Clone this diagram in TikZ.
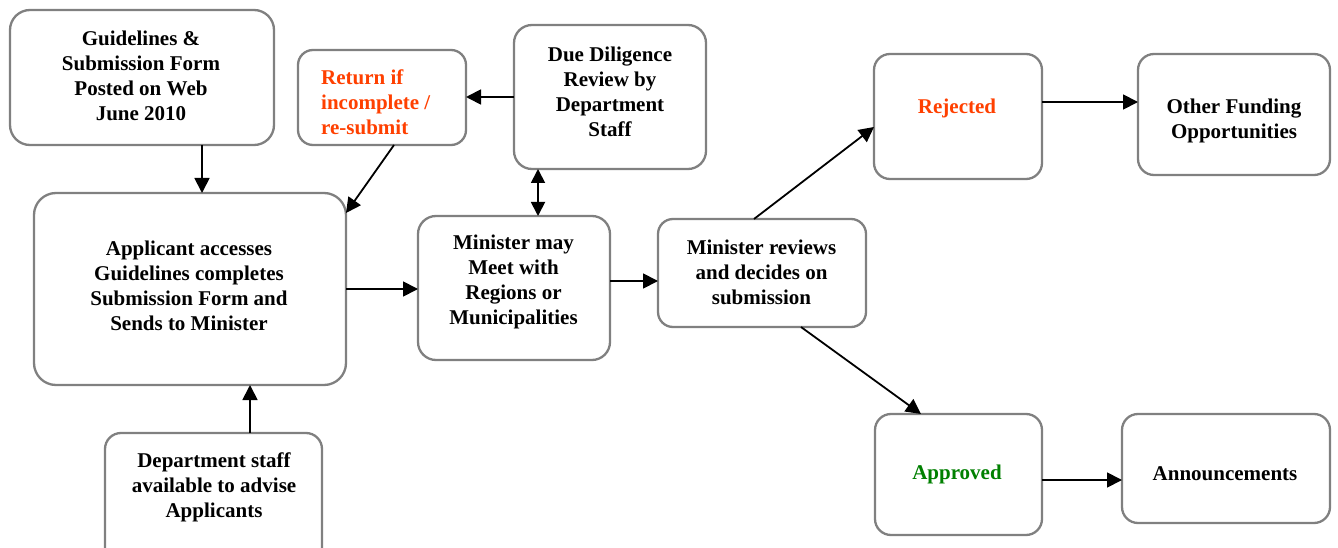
\documentclass[tikz,border=0pt]{standalone}
\usepackage{fontspec}
\setmainfont{Liberation Serif}
\usetikzlibrary{arrows.meta}
\definecolor{boxgray}{RGB}{128,128,128}
\definecolor{rejred}{RGB}{255,64,0}
\definecolor{appgreen}{RGB}{0,128,0}
\tikzset{
  box/.style={draw=boxgray, line width=2.3pt, rounded corners=18pt, inner sep=0pt, outer sep=0pt, fill=white},
  txt/.style={font=\bfseries\fontsize{21}{25}\selectfont, align=center, inner sep=0pt},
  arr/.style={line width=1.8pt, -{Triangle[length=15pt,width=15pt]}},
  darr/.style={line width=1.8pt, {Triangle[length=14pt,width=14pt]}-{Triangle[length=14pt,width=14pt]}}
}
\begin{document}
\begin{tikzpicture}[x=1pt,y=-1pt]
\useasboundingbox (0,0) rectangle (1338,548);
\clip (0,0) rectangle (1338,548);
% boxes
\node[box, minimum width=264pt, minimum height=135pt, rounded corners=20pt] (guide) at (142,77.5) {};
\node[box, minimum width=168pt, minimum height=95pt, rounded corners=15pt] (ret) at (382,97.5) {};
\node[box, minimum width=192pt, minimum height=144pt] (due) at (610,97) {};
\node[box, minimum width=312pt, minimum height=192pt, rounded corners=22pt] (appl) at (190,289) {};
\node[box, minimum width=192pt, minimum height=144pt] (meet) at (514,288) {};
\node[box, minimum width=208pt, minimum height=108pt, rounded corners=15pt] (rev) at (762,273) {};
\node[box, minimum width=168pt, minimum height=125pt, rounded corners=16pt] (rej) at (958,116.5) {};
\node[box, minimum width=192pt, minimum height=121pt, rounded corners=16pt] (other) at (1234,114.5) {};
\node[box, minimum width=167pt, minimum height=121pt, rounded corners=16pt] (appr) at (958.5,474.5) {};
\node[box, minimum width=208pt, minimum height=109pt, rounded corners=16pt] (ann) at (1226,468.5) {};
\node[box, minimum width=217pt, minimum height=132pt, rounded corners=16pt] (dept) at (213.5,499) {};
% texts
\node[txt] (tguide) at (141,76) {Guidelines \&\\Submission Form\\Posted on Web\\June 2010};
\node[txt, align=left, anchor=west, text=rejred] (tret) at (321,102) {Return if\\incomplete /\\re-submit};
\node[txt] (tdue) at (610,91.5) {Due Diligence\\Review by\\Department\\Staff};
\node[txt] (tappl) at (189,286) {Applicant accesses\\Guidelines completes\\Submission Form and\\Sends to Minister};
\node[txt] (tmeet) at (513.5,282) {Minister may\\Meet with\\Regions or\\Municipalities};
\node[txt] (trev) at (761.5,272) {Minister reviews\\and decides on\\submission};
\node[txt, text=rejred] (trej) at (957,108) {Rejected};
\node[txt] (tother) at (1234,121) {Other Funding\\Opportunities};
\node[txt, text=appgreen] (tappr) at (957,474) {Approved};
\node[txt] (tann) at (1225,474) {Announcements};
\node[txt] (tdept) at (214,487) {Department staff\\available to advise\\Applicants};
% connectors
\draw[arr] ([xshift=60pt]guide.south) -- ([xshift=12pt]appl.north);
\draw[arr] ([xshift=12pt]ret.south) -- ([yshift=-20pt]appl.north east);
\draw[arr] (due.west) -- (due.west -| ret.east);
\draw[darr] ([xshift=-72pt]due.south) -- ([xshift=24pt]meet.north);
\draw[arr] (appl.east) -- (appl.east -| meet.west);
\draw[arr] ([yshift=7pt]meet.east) -- ([yshift=-8pt]rev.west);
\draw[arr] ([xshift=-8pt]rev.north) -- ([yshift=-10.5pt]rej.west);
\draw[arr] ([yshift=14.5pt]rej.east) -- ([yshift=12.5pt]other.west);
\draw[arr] ([xshift=39pt]rev.south) -- ([xshift=-37.5pt]appr.north);
\draw[arr] ([yshift=-5.5pt]appr.east) -- ([yshift=-11.5pt]ann.west);
\draw[arr] ([xshift=36.5pt]dept.north) -- ([xshift=60pt]appl.south);
\end{tikzpicture}
\end{document}
